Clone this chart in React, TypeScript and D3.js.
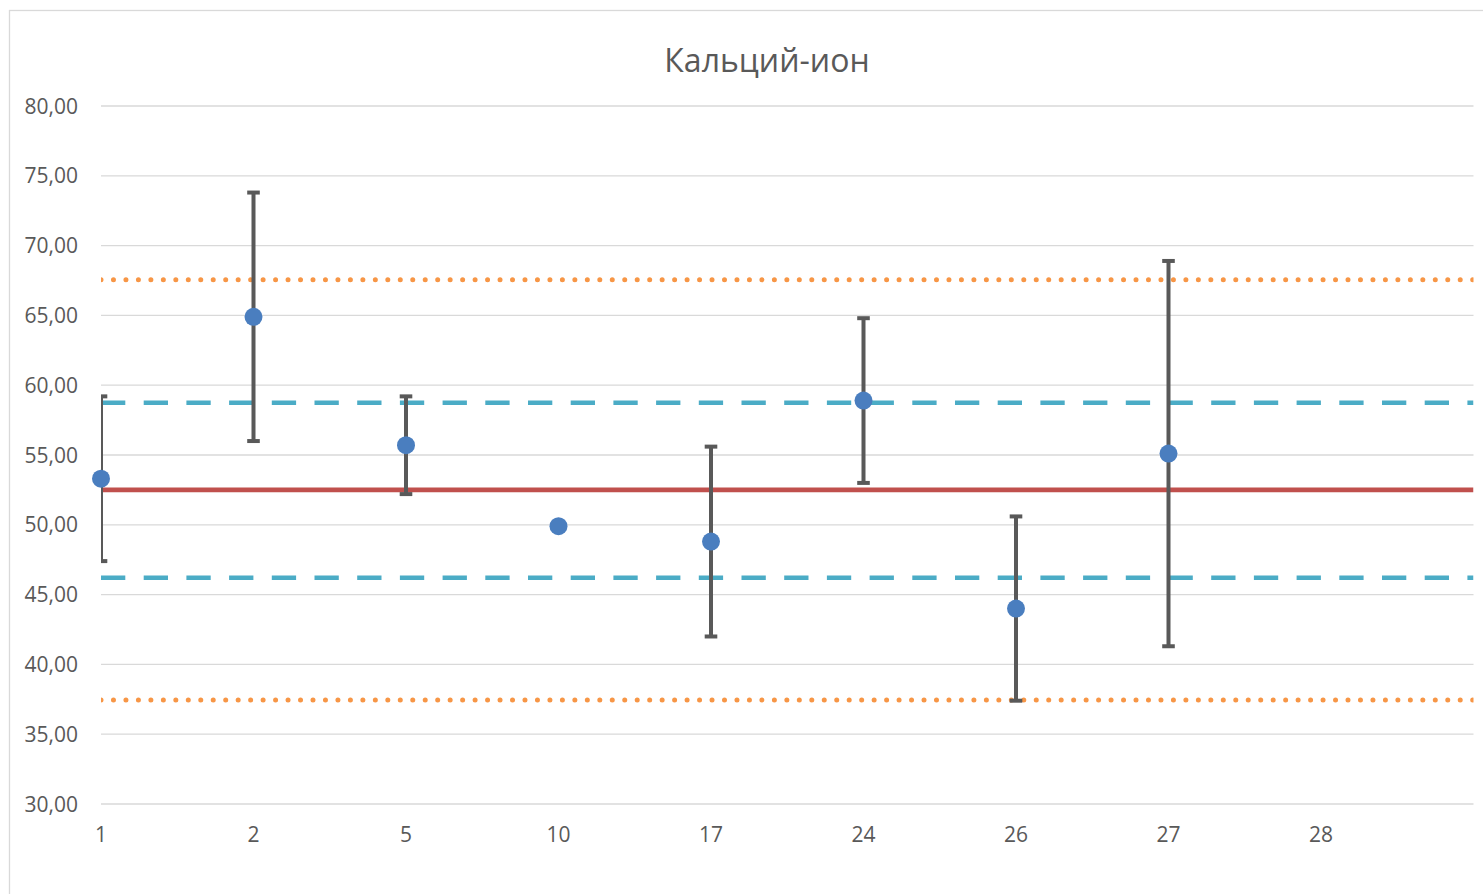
import React from "react";
import * as d3 from "d3";

// Sample numbers (category axis) and measured calcium-ion values
const categories = ["1", "2", "5", "10", "17", "24", "26", "27", "28"];
const values: (number | null)[] = [53.3, 64.9, 55.7, 49.9, 48.8, 58.9, 44.0, 55.1, null];
// Half-width of the error bar for each sample (null = no bar)
const errors: (number | null)[] = [5.9, 8.9, 3.5, null, 6.8, 5.9, 6.6, 13.8, null];

// Control levels
const meanLevel = 52.5;
const warningLevels = [58.75, 46.2];
const actionLevels = [67.55, 37.45];

const yTicks = [30, 35, 40, 45, 50, 55, 60, 65, 70, 75, 80];
const title = "Кальций-ион";

const W = 1483;
const H = 894;
const plot = { left: 101, right: 1473.5, top: 106, bottom: 804 };
const FONT = "'Open Sans', 'Noto Sans', sans-serif";
const TEXT = "#595959";

const ru = d3.formatLocale({
  decimal: ",",
  thousands: " ",
  grouping: [3],
  currency: ["", " ₽"],
});
const fmt = ru.format(".2f");

export default function App() {
  const x = d3.scaleLinear().domain([0, categories.length]).range([plot.left, plot.right]);
  const y = d3.scaleLinear().domain([30, 80]).range([plot.bottom, plot.top]);

  const hLine = (v: number) =>
    d3.line<number>().x((d) => d).y(() => y(v))([plot.left, plot.right]) ?? "";

  return (
    <svg
      width={W}
      height={H}
      style={{ position: "absolute", left: 0, top: 0, background: "#fff" }}
      fontFamily={FONT}
    >
      <defs>
        <clipPath id="plot-clip">
          <rect x={plot.left} y={0} width={plot.right - plot.left} height={H} />
        </clipPath>
      </defs>

      {/* chart frame */}
      <rect x={9.5} y={10.5} width={W + 20} height={H + 20} fill="#fff" stroke="#D9D9D9" strokeWidth={1.3} />

      <text x={767} y={72} textAnchor="middle" fontSize={32} fill={TEXT}>
        {title}
      </text>

      {/* gridlines and y labels */}
      {yTicks.map((t) => (
        <g key={t}>
          <line x1={plot.left} x2={plot.right} y1={y(t)} y2={y(t)} stroke="#D9D9D9" strokeWidth={1.3} />
          <text x={78} y={y(t)} dy="0.36em" textAnchor="end" fontSize={21} fill={TEXT}>
            {fmt(t)}
          </text>
        </g>
      ))}

      {/* x labels */}
      {categories.map((c, i) => (
        <text key={c} x={x(i)} y={842} textAnchor="middle" fontSize={21} fill={TEXT}>
          {c}
        </text>
      ))}

      <g clipPath="url(#plot-clip)">
        {/* action limits */}
        {actionLevels.map((v) => (
          <path
            key={"a" + v}
            d={hLine(v)}
            stroke="#F79646"
            strokeWidth={5}
            strokeDasharray="0 12.47"
            strokeLinecap="round"
            fill="none"
          />
        ))}
        {/* warning limits */}
        {warningLevels.map((v) => (
          <path
            key={"w" + v}
            d={hLine(v)}
            stroke="#4BACC6"
            strokeWidth={4.5}
            strokeDasharray="24.3 18.4"
            fill="none"
          />
        ))}
        {/* mean */}
        <path d={hLine(meanLevel)} stroke="#C0504D" strokeWidth={4.8} fill="none" />

        {/* error bars */}
        {values.map((v, i) => {
          const e = errors[i];
          if (v == null || e == null) return null;
          const cx = x(i);
          const y0 = y(v + e);
          const y1 = y(v - e);
          return (
            <g key={"e" + i} stroke="#595959" strokeWidth={4}>
              <line x1={cx} x2={cx} y1={y0} y2={y1} />
              <line x1={cx - 6.3} x2={cx + 6.3} y1={y0} y2={y0} />
              <line x1={cx - 6.3} x2={cx + 6.3} y1={y1} y2={y1} />
            </g>
          );
        })}
      </g>

      {/* markers */}
      {values.map((v, i) =>
        v == null ? null : <circle key={"m" + i} cx={x(i)} cy={y(v)} r={9} fill="#4A7EBF" />
      )}
    </svg>
  );
}
